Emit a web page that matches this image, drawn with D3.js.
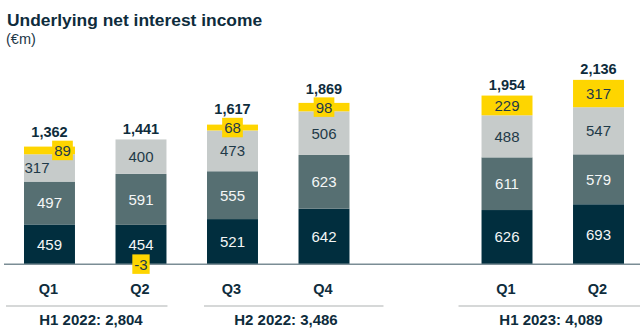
<!DOCTYPE html>
<html>
<head>
<meta charset="utf-8">
<script src="https://cdn.jsdelivr.net/npm/d3@7"></script>
<style>
  body { margin: 0; background: #fff; }
  svg { display: block; font-family: "Liberation Sans", Arial, sans-serif; }
</style>
</head>
<body>
<svg id="chart" width="640" height="334"></svg>
<script>
// ---- data ----
var slots = ["2022Q1", "2022Q2", "2022Q3", "2022Q4", "gap", "2023Q1", "2023Q2"];
var quarters = ["2022Q1", "2022Q2", "2022Q3", "2022Q4", "2023Q1", "2023Q2"];
var quarterLabels = ["Q1", "Q2", "Q3", "Q4", "Q1", "Q2"];
var seg1 = [459, 454, 521, 642, 626, 693];
var seg2 = [497, 591, 555, 623, 611, 579];
var seg3 = [317, 400, 473, 506, 488, 547];
var seg4 = [89, -3, 68, 98, 229, 317];
var totals = [1362, 1441, 1617, 1869, 1954, 2136];
var halfLabels = ["H1 2022", "H2 2022", "H1 2023"];
var halfTotals = [2804, 3486, 4089];
var halfQuarters = [["2022Q1", "2022Q2"], ["2022Q3", "2022Q4"], ["2023Q1", "2023Q2"]];

var keys = ["seg1", "seg2", "seg3", "seg4"];
var colors = { seg1: "#012e3e", seg2: "#566f72", seg3: "#c6cbca", seg4: "#fed500" };
var textColors = { seg1: "#f4f6f6", seg2: "#f4f6f6", seg3: "#1f3a48", seg4: "#1f3a48" };
var ink = "#0e2c3c";

var rows = quarters.map(function(q, i) {
  return { q: q, seg1: seg1[i], seg2: seg2[i], seg3: seg3[i], seg4: seg4[i], total: totals[i] };
});

var svg = d3.select("#chart");

var x = d3.scaleBand().domain(slots).range([24, 624]).paddingInner(0.443).paddingOuter(0);
var y = d3.scaleLinear().domain([0, 2500]).range([264, 48.5]);
var bw = x.bandwidth();

var stacked = d3.stack().keys(keys).offset(d3.stackOffsetDiverging)(rows);

// ---- title ----
svg.append("text").attr("x", 7).attr("y", 26)
  .attr("font-size", 17.4).attr("font-weight", "bold").attr("fill", ink)
  .text("Underlying net interest income");
svg.append("text").attr("x", 6).attr("y", 43.5)
  .attr("font-size", 14.5).attr("fill", "#1d3747")
  .text("(€m)");

// ---- bars ----
var layers = svg.append("g").selectAll("g")
  .data(stacked).enter().append("g")
    .attr("fill", function(d) { return colors[d.key]; });

layers.selectAll("rect")
  .data(function(d) { return d; })
  .enter().append("rect")
    .attr("x", function(d) { return x(d.data.q); })
    .attr("y", function(d) { return y(Math.max(d[0], d[1])); })
    .attr("width", bw)
    .attr("height", function(d) { return Math.abs(y(d[0]) - y(d[1])); });

// baseline
svg.append("line")
  .attr("x1", 4).attr("x2", 640)
  .attr("y1", y(0) + 0.3).attr("y2", y(0) + 0.3)
  .attr("stroke", "#7b8d95").attr("stroke-width", 1.5);

// ---- segment labels ----
// small yellow values get a yellow box behind the number; first quarter labels are pushed apart
var nudge = { "2022Q1": { seg3: -12.5, seg4: 13 } };
var boxTop = {};
var labels = svg.append("g").attr("font-size", 15).attr("text-anchor", "middle");

stacked.forEach(function(layer) {
  layer.forEach(function(d) {
    var q = d.data.q;
    var v = d.data[layer.key];
    var cx = x(q) + bw / 2 + ((nudge[q] && nudge[q][layer.key]) || 0);
    var cy = (y(d[0]) + y(d[1])) / 2;
    var t = labels.append("text")
      .attr("x", cx).attr("y", cy).attr("dy", "0.36em")
      .attr("fill", textColors[layer.key])
      .text(String(v));
    if (layer.key == "seg4" && Math.abs(v) < 100) {
      var w = t.node().getComputedTextLength() + 4;
      var h = 19.5;
      labels.insert("rect", function() { return t.node(); })
        .attr("x", cx - w / 2).attr("y", cy - h / 2)
        .attr("width", w).attr("height", h)
        .attr("fill", colors.seg4);
      boxTop[q] = cy - h / 2;
    }
  });
});

// ---- totals ----
svg.append("g").selectAll("text")
  .data(rows).enter().append("text")
    .attr("x", function(d) { return x(d.q) + bw / 2; })
    .attr("y", function(d, i) {
      var top = y(d3.max(stacked, function(s) { return s[i][1]; }));
      if (boxTop[d.q] !== undefined && boxTop[d.q] < top) return boxTop[d.q] - 3.5;
      return top - 5.5;
    })
    .attr("text-anchor", "middle").attr("font-size", 14.5).attr("font-weight", "bold")
    .attr("fill", ink)
    .text(function(d) { return d3.format(",")(d.total); });

// ---- quarter axis ----
svg.append("g").selectAll("text")
  .data(quarters).enter().append("text")
    .attr("x", function(q) { return x(q) + bw / 2 - 1; })
    .attr("y", 294)
    .attr("text-anchor", "middle").attr("font-size", 14.5).attr("font-weight", "bold")
    .attr("fill", ink)
    .text(function(q, i) { return quarterLabels[i]; });

// ---- half-year groups ----
var rulePad = [[18, 1], [3, 34], [23, 16]];
var halves = svg.append("g");
halfQuarters.forEach(function(pair, i) {
  var x1 = x(pair[0]) - rulePad[i][0];
  var x2 = x(pair[1]) + bw + rulePad[i][1];
  halves.append("line")
    .attr("x1", x1).attr("x2", x2).attr("y1", 306).attr("y2", 306)
    .attr("stroke", "#c9cbcb").attr("stroke-width", 1.5);
  var barMid = (x(pair[0]) + x(pair[1]) + bw) / 2;
  halves.append("text")
    .attr("x", (barMid + (x1 + x2) / 2) / 2).attr("y", 324.5)
    .attr("text-anchor", "middle").attr("font-size", 15).attr("font-weight", "bold")
    .attr("fill", ink)
    .text(halfLabels[i] + ": " + d3.format(",")(halfTotals[i]));
});
</script>
</body>
</html>
